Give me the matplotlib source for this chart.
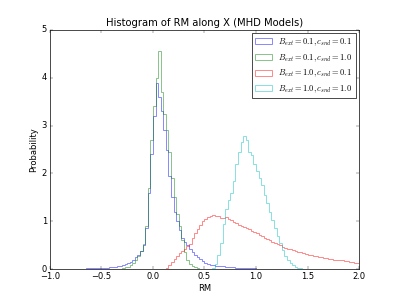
import numpy as np
import matplotlib
matplotlib.use('Agg')
import matplotlib.pyplot as plt

plt.style.use('classic')

bin_width = 0.025

# densities per bin, each series starts at its own left edge
blue_start = -1.0
blue_vals = [0.002, 0.002, 0.003, 0.003, 0.004, 0.004, 0.005, 0.006, 0.007, 0.008,
             0.009, 0.010, 0.011, 0.012, 0.013, 0.014, 0.015, 0.017, 0.019, 0.021,
             0.023, 0.026, 0.030, 0.035, 0.040, 0.050, 0.060, 0.075, 0.090, 0.105,
             0.120, 0.150, 0.190, 0.250, 0.300, 0.370, 0.500, 0.850, 1.600, 2.400,
             3.200, 3.900, 3.600, 3.300, 2.900, 2.500, 1.950, 1.500, 1.200, 1.000,
             0.820, 0.650, 0.560, 0.500, 0.420, 0.350, 0.290, 0.250, 0.210, 0.160,
             0.130, 0.110, 0.090, 0.080, 0.070, 0.065, 0.060, 0.055, 0.050, 0.045,
             0.040, 0.035, 0.030, 0.028, 0.025, 0.022, 0.020, 0.018, 0.016, 0.014,
             0.012, 0.011, 0.010, 0.009, 0.008, 0.007, 0.006, 0.005, 0.004, 0.004,
             0.003, 0.003, 0.002, 0.002, 0.001, 0.001]

green_start = -0.35
green_vals = [0.005, 0.010, 0.020, 0.035, 0.050, 0.080, 0.120, 0.200, 0.280, 0.380,
              0.520, 0.900, 1.700, 2.700, 3.400, 4.000, 4.550, 3.700, 3.250, 2.900,
              2.450, 1.900, 1.500, 1.150, 0.900, 0.600, 0.350, 0.180, 0.100, 0.060,
              0.035, 0.020, 0.010, 0.005]

red_start = 0.125
red_vals = [0.03, 0.08, 0.15, 0.22, 0.27, 0.33, 0.38, 0.43, 0.49, 0.53,
            0.65, 0.75, 0.83, 0.92, 1.00, 1.05, 1.09, 1.12, 1.13, 1.12,
            1.10, 1.07, 1.06, 1.08, 1.05, 1.02, 0.99, 0.96, 0.93, 0.90,
            0.87, 0.85, 0.83, 0.80, 0.77, 0.75, 0.72, 0.69, 0.66, 0.63,
            0.60, 0.57, 0.55, 0.52, 0.50, 0.47, 0.45, 0.43, 0.41, 0.39,
            0.37, 0.36, 0.35, 0.33, 0.32, 0.30, 0.29, 0.28, 0.27, 0.26,
            0.25, 0.24, 0.23, 0.22, 0.21, 0.20, 0.19, 0.19, 0.18, 0.17,
            0.16, 0.15, 0.14, 0.13, 0.12, 0.11]

cyan_start = 0.575
cyan_vals = [0.02, 0.10, 0.30, 0.55, 0.95, 1.25, 1.45, 1.60, 1.85, 2.20,
             2.45, 2.65, 2.78, 2.70, 2.45, 2.38, 2.20, 2.05, 1.90, 1.75,
             1.55, 1.38, 1.20, 1.02, 0.85, 0.70, 0.55, 0.40, 0.28, 0.20,
             0.13, 0.08, 0.05, 0.03, 0.015, 0.007, 0.003]

series = [
    (blue_start, blue_vals, 'b', r'$B_{ext}=0.1, c_{snd}=0.1$'),
    (green_start, green_vals, 'g', r'$B_{ext}=0.1, c_{snd}=1.0$'),
    (red_start, red_vals, 'r', r'$B_{ext}=1.0, c_{snd}=0.1$'),
    (cyan_start, cyan_vals, 'c', r'$B_{ext}=1.0, c_{snd}=1.0$'),
]

fig, ax = plt.subplots(figsize=(7.98, 5.98), dpi=50)

for start, vals, color, label in series:
    edges = start + bin_width * np.arange(len(vals) + 1)
    ax.hist(edges[:-1], bins=edges, weights=vals, histtype='step',
            color=color, alpha=0.5, linewidth=1.3, label=label)

ax.set_xlim(-1.0, 2.0)
ax.set_ylim(0, 5)
ax.set_title('Histogram of RM along X (MHD Models)')
ax.set_xlabel('RM')
ax.set_ylabel('Probability')
ax.legend(loc='upper right', fontsize=12, borderaxespad=0.4)

fig.savefig('out.png', dpi=50)
